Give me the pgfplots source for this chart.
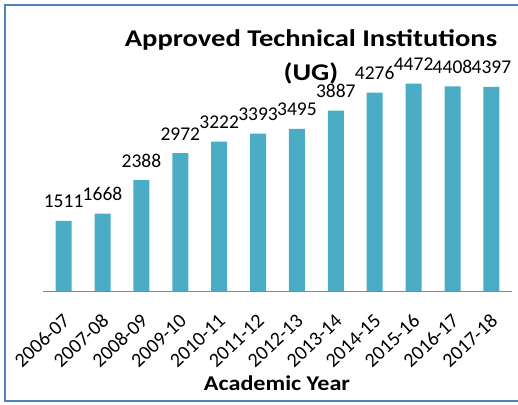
\documentclass[border=0pt]{standalone}
\usepackage{pgfplots}
\pgfplotsset{compat=1.18}
\usepackage{fontspec}
\setmainfont{Carlito}
\definecolor{barblue}{HTML}{4BACC6}
\definecolor{framecol}{HTML}{4F81BD}
\definecolor{axisgray}{HTML}{868686}

\begin{document}
\begin{tikzpicture}[x=1pt,y=1pt]
\useasboundingbox (0,0) rectangle (518,404);
% chart frame (right edge runs off the page)
\draw[framecol, line width=2pt] (5,3) rectangle (530,399);
\begin{axis}[
  at={(43pt,113pt)}, anchor=south west,
  scale only axis, width=469pt, height=232pt,
  xmin=-0.53, xmax=11.53, ymin=0, ymax=5000,
  ybar, bar width=16pt,
  axis y line=none, axis x line*=bottom,
  x axis line style={axisgray, line width=0.8pt, -},
  xtick=data,
  xticklabels={2006-07,2007-08,2008-09,2009-10,2010-11,2011-12,2012-13,2013-14,2014-15,2015-16,2016-17,2017-18},
  major tick length=0pt,
  xticklabel style={font=\fontsize{20}{20}\selectfont, yshift=-27pt, xshift=3pt, rotate=43, anchor=east, inner sep=0pt},
  nodes near coords,
  every node near coord/.append style={font=\fontsize{19.5}{19.5}\selectfont, inner sep=0pt, yshift=13pt, anchor=base},
  /pgf/number format/assume math mode=true,
  /pgf/number format/1000 sep={},
  clip=false,
]
\addplot[fill=barblue, draw=none] coordinates {
  (0,1511) (1,1668) (2,2388) (3,2972) (4,3222) (5,3393)
  (6,3495) (7,3887) (8,4276) (9,4472) (10,4408) (11,4397)
};
\end{axis}
\node[font=\bfseries\fontsize{24}{24}\selectfont, xscale=1.19, anchor=base] at (311,357) {Approved Technical Institutions};
\node[font=\bfseries\fontsize{24}{24}\selectfont, xscale=1.19, anchor=base] at (311,323) {(UG)};
\node[font=\bfseries\fontsize{21}{21}\selectfont, xscale=1.15, anchor=base] at (277,14) {Academic Year};
\end{tikzpicture}
\end{document}
